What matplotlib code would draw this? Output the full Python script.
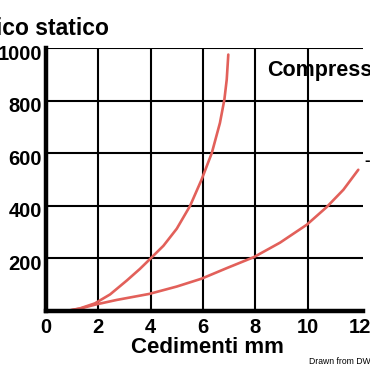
import matplotlib
matplotlib.use("Agg")
import matplotlib.pyplot as plt
import matplotlib.transforms as mtransforms

# Data
curve1_x = [0.79, 1.30, 1.87, 2.45, 3.09, 3.59, 3.95, 4.49, 5.00, 5.51, 5.95,
            6.34, 6.65, 6.82, 6.91, 6.97]
curve1_y = [0, 10, 29, 63, 116, 160, 195, 248, 313, 400, 500,
            601, 715, 804, 880, 975]
curve2_x = [0.79, 1.30, 1.87, 2.70, 3.95, 5.00, 5.95, 6.91, 7.95, 8.95, 9.97,
            10.73, 11.37, 11.94]
curve2_y = [0, 9, 24, 42, 65, 93, 123, 163, 205, 260, 328,
            395, 461, 537]
x_ticks = [0, 2, 4, 6, 8, 10, 12]
y_ticks = [200, 400, 600, 800, 1000]
x_grid = [2, 4, 6, 8, 10]

W, H = 370, 367
fig = plt.figure(figsize=(W / 100, H / 100), dpi=100)
ax = fig.add_axes([46 / W, 1 - 311 / H, (363 - 46) / W, (311 - 48) / H])
ax.set_xlim(0, 12.12)
ax.set_ylim(0, 1000)

red = "#e2605a"
font = "Liberation Sans"

for gx in x_grid:
    ax.axvline(gx, color="black", lw=1.5, zorder=1)
for gy in y_ticks:
    ax.axhline(gy, color="black", lw=1.5, zorder=1)

ax.plot(curve1_x, curve1_y, color=red, lw=1.9, zorder=3,
        solid_capstyle="round", solid_joinstyle="round")
ax.plot(curve2_x, curve2_y, color=red, lw=1.9, zorder=3,
        solid_capstyle="round", solid_joinstyle="round")

for s in ["top", "right"]:
    ax.spines[s].set_visible(False)
for s in ["left", "bottom"]:
    ax.spines[s].set_linewidth(3.2)
    ax.spines[s].set_color("black")
    ax.spines[s].set_zorder(4)

ax.set_xticks(x_ticks)
ax.set_xticklabels([str(v) for v in x_ticks], fontfamily=font, fontweight="bold", fontsize=14.5)
ax.set_yticks(y_ticks)
ax.set_yticklabels([str(v) for v in y_ticks], fontfamily=font, fontweight="bold", fontsize=14.5)
ax.tick_params(axis="both", length=0)
ax.tick_params(axis="x", pad=5)
ax.tick_params(axis="y", pad=3)
off = mtransforms.ScaledTranslation(0, -4 / 100, fig.dpi_scale_trans)
for lbl in ax.get_yticklabels():
    lbl.set_transform(lbl.get_transform() + off)
ax.set_facecolor("white")

# Texts
fig.text(109 / W, 1 - 35 / H, "Carico statico", ha="right", va="baseline",
         fontfamily=font, fontweight="bold", fontsize=16.5)
fig.text(267 / W, 1 - 76 / H, "Compressione", ha="left", va="baseline",
         fontfamily=font, fontweight="bold", fontsize=15.5)
fig.text(207 / W, 1 - 353 / H, "Cedimenti mm", ha="center", va="baseline",
         fontfamily=font, fontweight="bold", fontsize=16)
fig.text(309 / W, 1 - 361 / H, "Drawn from DWG", ha="left", va="center",
         fontfamily=font, fontsize=6.2)
fig.text(364 / W, 1 - 160 / H, "-", ha="left", va="center",
         fontfamily=font, fontweight="bold", fontsize=12)

fig.savefig("out.png", dpi=100, facecolor="white")
